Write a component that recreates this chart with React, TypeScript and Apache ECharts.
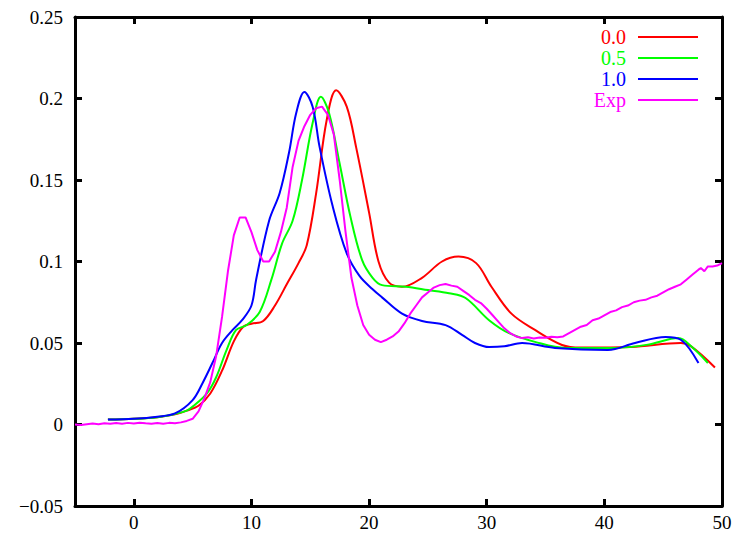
import React, { useEffect, useRef } from "react";
import * as echarts from "echarts";

const seriesNames = ["0.0", "0.5", "1.0", "Exp"];
const seriesColors = ["#ff0000", "#00ff00", "#0000ff", "#ff00ff"];

const redX = [-2.2, 0, 2, 3.5, 4.5, 5.5, 6.5, 7.5, 8.5, 9.3, 10, 11, 12, 13, 14, 14.7, 15.5, 16.4, 17.2, 18.1, 18.9, 20, 20.8, 21.7, 22.8, 24.5, 26.2, 27.6, 29.1, 30.4, 32.1, 34.1, 36.4, 38, 42.3, 46.5, 47.4, 49.4];
const redY = [0.003, 0.0035, 0.0045, 0.0062, 0.0085, 0.0115, 0.019, 0.033, 0.051, 0.06, 0.0618, 0.0635, 0.073, 0.086, 0.099, 0.11, 0.142, 0.187, 0.205, 0.195, 0.17, 0.13, 0.1, 0.087, 0.0845, 0.09, 0.1, 0.103, 0.099, 0.0845, 0.068, 0.058, 0.0488, 0.0472, 0.0476, 0.05, 0.0478, 0.035];

const greenX = [-2.2, 0, 2, 3.5, 4.5, 5, 6.2, 7, 7.9, 8.7, 9.6, 10.7, 11.7, 12.6, 13.5, 14.3, 15.2, 15.9, 16.6, 17.5, 18.4, 19.4, 20.3, 21.1, 23.1, 25, 26.8, 28.2, 30.2, 31.9, 34.1, 36.7, 40.9, 43.7, 46.3, 47.4, 48.8];
const greenY = [0.003, 0.0035, 0.0045, 0.0065, 0.0085, 0.011, 0.019, 0.029, 0.046, 0.058, 0.061, 0.069, 0.089, 0.111, 0.125, 0.15, 0.185, 0.201, 0.191, 0.16, 0.128, 0.101, 0.09, 0.0855, 0.0845, 0.0825, 0.0805, 0.0776, 0.064, 0.056, 0.0507, 0.047, 0.047, 0.049, 0.053, 0.0478, 0.0377];

const blueX = [-2.2, 0, 2, 3.5, 5, 5.85, 6.7, 7.5, 8.4, 9.2, 10, 10.4, 11.5, 12.4, 13.2, 13.8, 14.5, 15.2, 15.8, 16.9, 18.1, 19.2, 20.3, 21.1, 22.8, 24.5, 26.5, 27.9, 29, 30.2, 31.5, 33, 35.8, 40.3, 42.6, 45.2, 46.5, 48];
const blueY = [0.003, 0.0035, 0.0048, 0.0068, 0.015, 0.0255, 0.038, 0.05, 0.058, 0.064, 0.073, 0.089, 0.125, 0.142, 0.167, 0.191, 0.204, 0.195, 0.17, 0.134, 0.105, 0.091, 0.083, 0.078, 0.068, 0.0635, 0.061, 0.055, 0.05, 0.0475, 0.048, 0.05, 0.047, 0.0457, 0.05, 0.0537, 0.052, 0.0377];

const expX = [-5, -4.5, -4, -3.5, -3, -2.5, -2, -1.5, -1, -0.5, 0, 0.5, 1, 1.5, 2, 2.5, 3, 3.5, 4, 4.5, 5, 5.5, 6, 6.5, 7, 7.5, 8, 8.5, 9, 9.5, 10, 10.5, 11, 11.5, 12, 12.5, 13, 13.5, 14, 14.5, 15, 15.5, 16, 16.5, 17, 17.5, 18, 18.5, 19, 19.5, 20, 20.5, 21, 21.5, 22, 22.5, 23, 23.5, 24, 24.5, 25, 25.5, 26, 26.5, 27, 27.5, 28, 28.5, 29, 29.5, 30, 30.5, 31, 31.5, 32, 32.5, 33, 33.5, 34, 34.5, 35, 35.5, 36, 36.5, 37, 37.5, 38, 38.5, 39, 39.5, 40, 40.5, 41, 41.5, 42, 42.5, 43, 43.5, 44, 44.5, 45, 45.5, 46, 46.5, 47, 47.5, 48, 48.2, 48.5, 48.8, 49.2, 49.6, 50];
const expY = [0.0, -0.0003, 0.0002, 0.0006, 0.0002, 0.0008, 0.0004, 0.0009, 0.0005, 0.001, 0.0006, 0.0011, 0.0007, 0.0004, 0.0009, 0.0005, 0.001, 0.0008, 0.0013, 0.0022, 0.0035, 0.008, 0.016, 0.026, 0.042, 0.066, 0.094, 0.116, 0.127, 0.127, 0.118, 0.107, 0.1, 0.1, 0.106, 0.118, 0.133, 0.158, 0.174, 0.183, 0.19, 0.194, 0.195, 0.19, 0.178, 0.15, 0.118, 0.09, 0.073, 0.061, 0.055, 0.052, 0.0505, 0.052, 0.054, 0.057, 0.062, 0.068, 0.073, 0.078, 0.081, 0.084, 0.0855, 0.0862, 0.0852, 0.0845, 0.082, 0.0795, 0.0765, 0.0745, 0.071, 0.067, 0.063, 0.059, 0.056, 0.054, 0.053, 0.0535, 0.0528, 0.0534, 0.0532, 0.0538, 0.0535, 0.054, 0.056, 0.058, 0.06, 0.061, 0.064, 0.065, 0.067, 0.069, 0.07, 0.072, 0.073, 0.075, 0.076, 0.0765, 0.078, 0.079, 0.081, 0.083, 0.0845, 0.086, 0.089, 0.092, 0.095, 0.096, 0.094, 0.097, 0.097, 0.0975, 0.099];

const xMin = -5, xMax = 50;
const xTicks = [0, 10, 20, 30, 40, 50];
const yMin = -0.05, yMax = 0.25, yInterval = 0.05;

const FONT = "'Liberation Serif', 'Times New Roman', serif";

function pairs(xs: number[], ys: number[]) {
  return xs.map((x, i) => [x, ys[i]]);
}

export default function App() {
  const ref = useRef<HTMLDivElement>(null);
  useEffect(() => {
    if (!ref.current) return;
    const chart = echarts.init(ref.current, undefined, { renderer: "svg" });
    const axisLine = { show: true, onZero: false, lineStyle: { color: "#000", width: 3 } };
    const axisTick = { show: true, inside: true, length: 7, lineStyle: { color: "#000", width: 3 } };
    const xAxisTick = { ...axisTick, customValues: xTicks };
    const fmtY = (v: number) => {
      const s = String(Math.round(v * 1000) / 1000);
      return s.replace("-", "\u2212");
    };
    const data = [pairs(redX, redY), pairs(greenX, greenY), pairs(blueX, blueY), pairs(expX, expY)];
    const legendRows = [37, 58, 79, 100];
    const graphic: any[] = [];
    seriesNames.forEach((n, i) => {
      graphic.push({
        type: "text",
        x: 626,
        y: legendRows[i],
        style: { text: n, fill: seriesColors[i], font: `20px ${FONT}`, textAlign: "right", textVerticalAlign: "middle" },
      });
      graphic.push({
        type: "line",
        shape: { x1: 638, y1: legendRows[i], x2: 698, y2: legendRows[i] },
        style: { stroke: seriesColors[i], lineWidth: 2 },
      });
    });
    chart.setOption({
      animation: false,
      backgroundColor: "#fff",
      grid: { left: 75, right: 14, top: 17, bottom: 36, containLabel: false },
      xAxis: [
        {
          type: "value", min: xMin, max: xMax, position: "bottom",
          axisLine, axisTick: xAxisTick, splitLine: { show: false },
          axisLabel: { color: "#000", fontFamily: FONT, fontSize: 19, margin: 7, customValues: xTicks },
        },
        {
          type: "value", min: xMin, max: xMax, position: "top",
          axisLine, axisTick: xAxisTick, splitLine: { show: false },
          axisLabel: { show: false, customValues: xTicks },
        },
      ],
      yAxis: [
        {
          type: "value", min: yMin, max: yMax, interval: yInterval, position: "left",
          axisLine, axisTick, splitLine: { show: false },
          axisLabel: { color: "#000", fontFamily: FONT, fontSize: 19, margin: 12, formatter: fmtY },
        },
        {
          type: "value", min: yMin, max: yMax, interval: yInterval, position: "right",
          axisLine, axisTick, splitLine: { show: false }, axisLabel: { show: false },
        },
      ],
      series: data.map((d, i) => ({
        type: "line",
        name: seriesNames[i],
        data: d,
        showSymbol: false,
        symbol: "none",
        smooth: i < 3 ? 0.35 : false,
        lineStyle: { color: seriesColors[i], width: 2 },
        itemStyle: { color: seriesColors[i] },
        z: 2 + i,
        clip: true,
      })),
      graphic,
    });
    return () => chart.dispose();
  }, []);
  return <div ref={ref} style={{ position: "fixed", left: 0, top: 0, width: 736, height: 542, background: "#fff" }} />;
}
